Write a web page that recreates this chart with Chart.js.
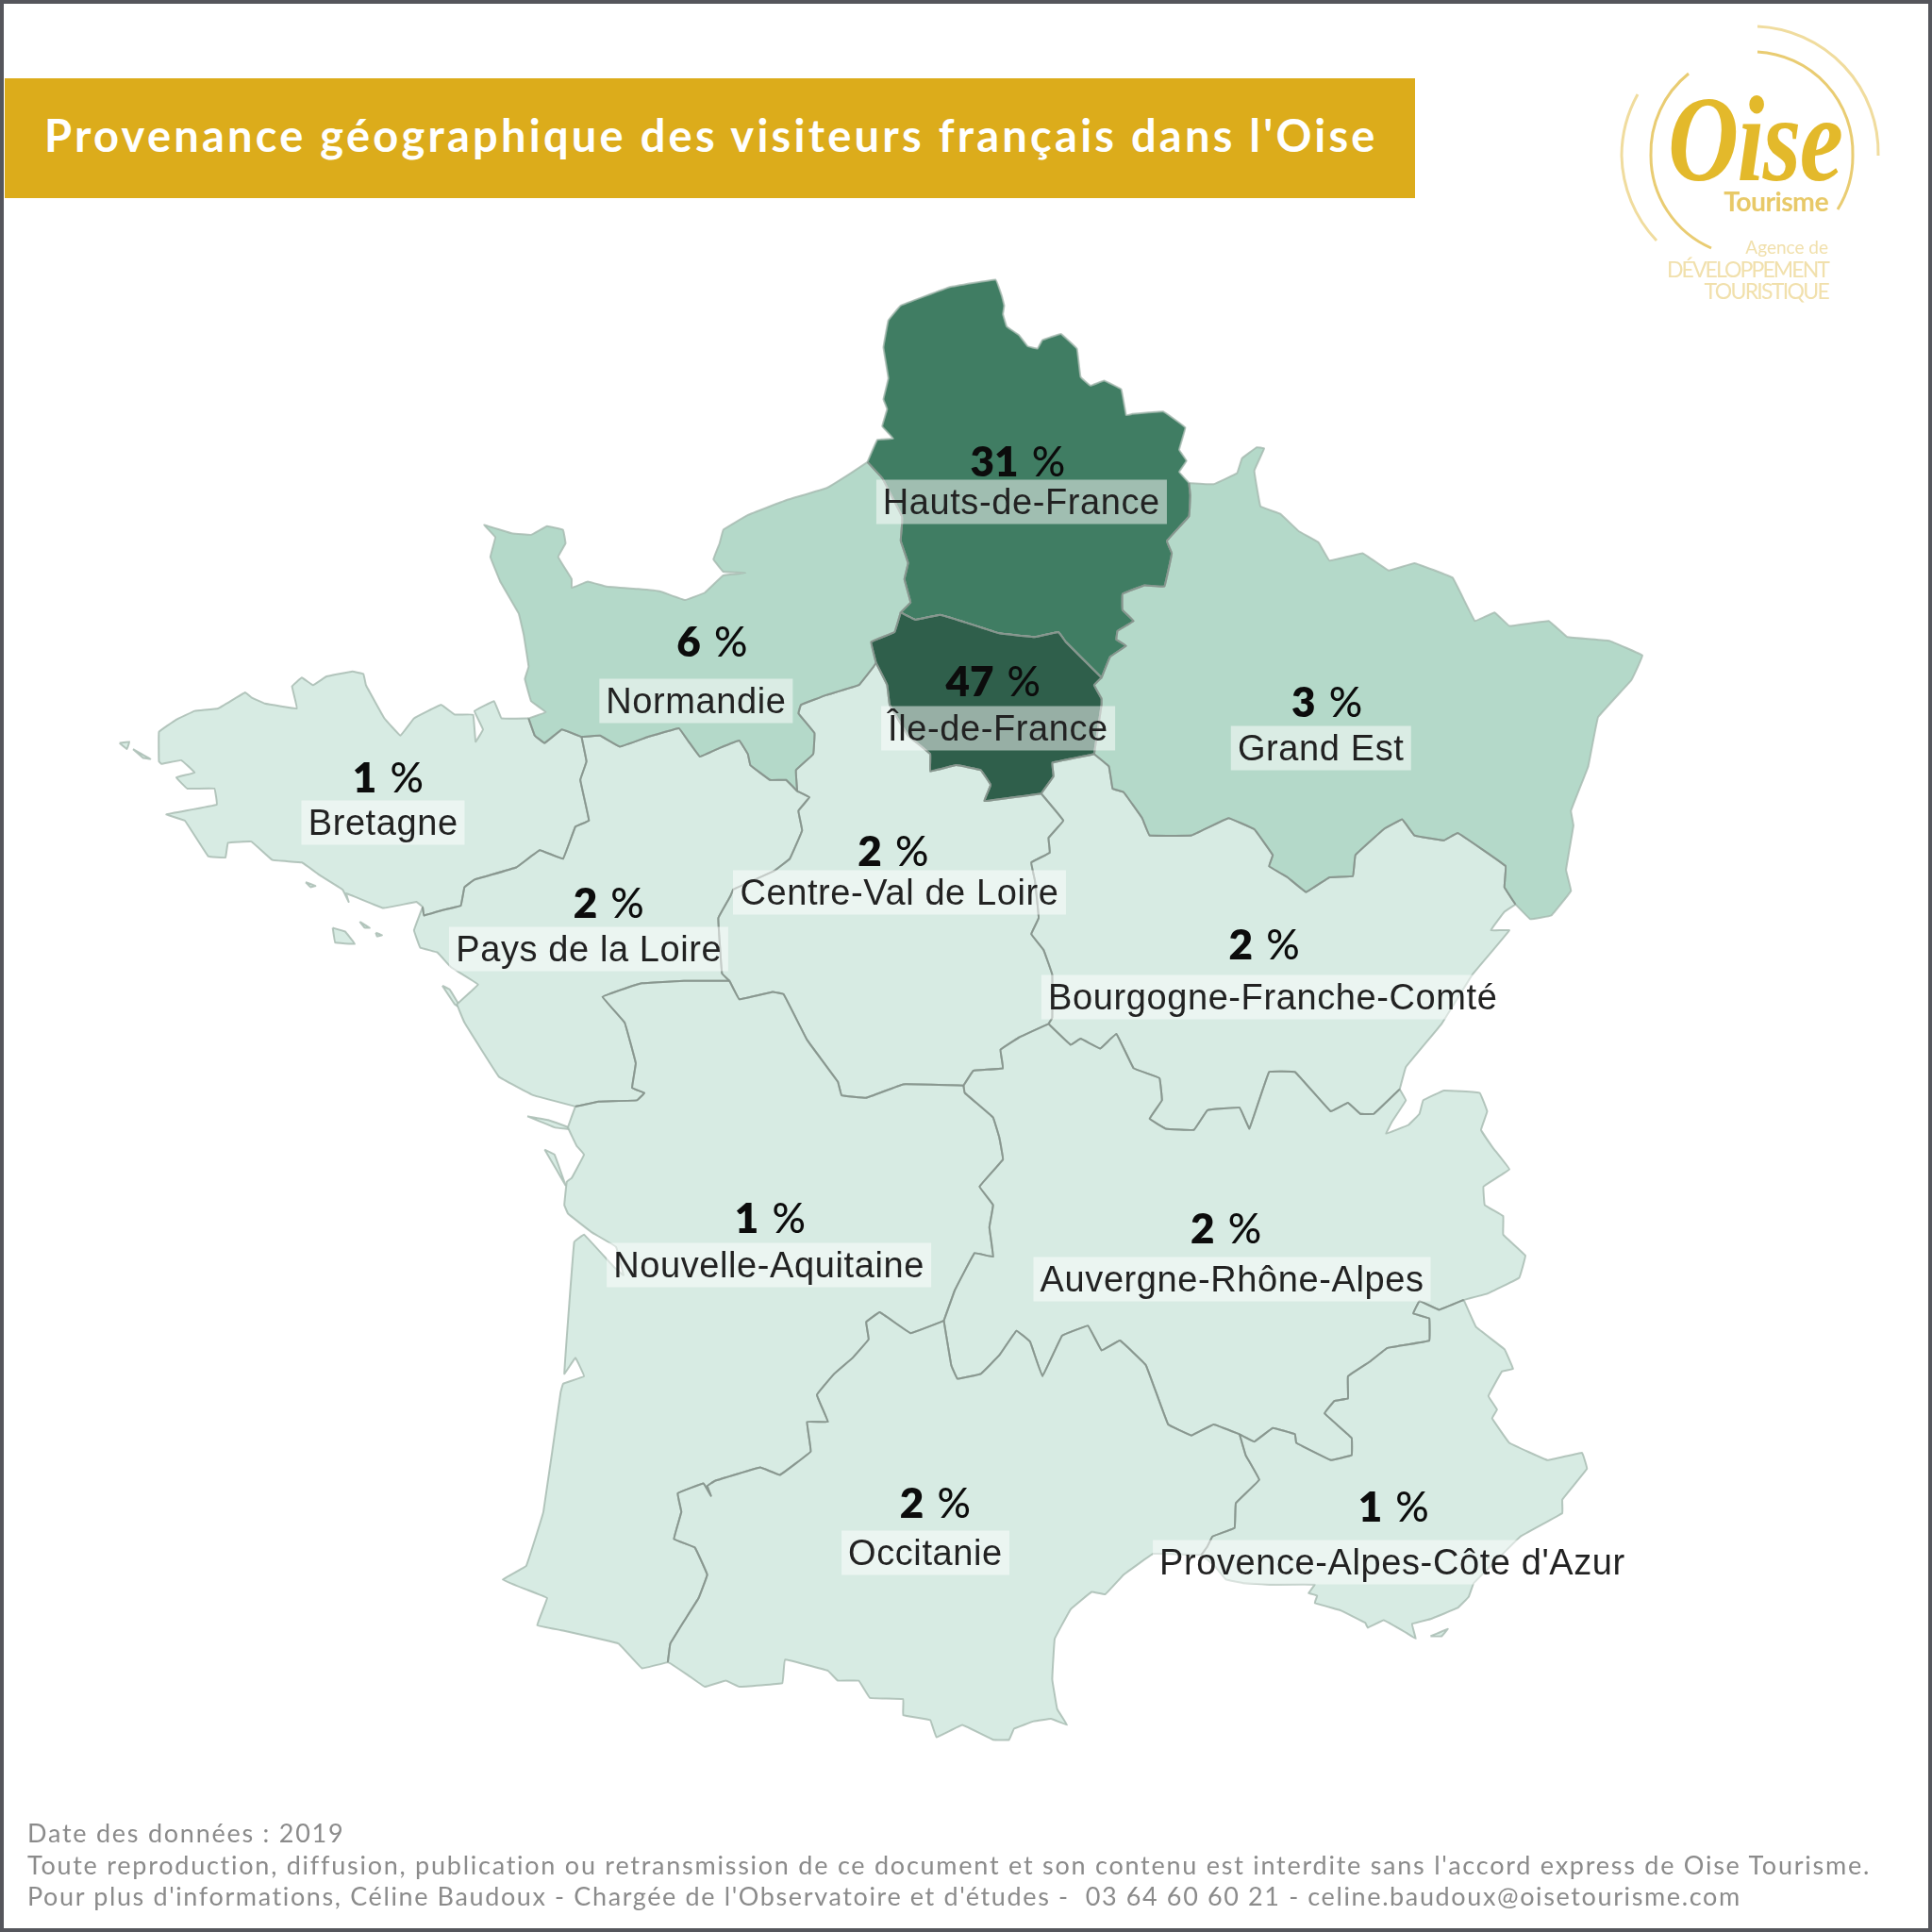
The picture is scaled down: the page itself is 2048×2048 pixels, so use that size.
<!DOCTYPE html>
<html lang="fr">
<head>
<meta charset="utf-8">
<title>Provenance géographique des visiteurs français dans l'Oise</title>
<script src="https://cdn.jsdelivr.net/npm/chart.js@4/dist/chart.umd.min.js"></script>
<style>
  html, body { margin: 0; padding: 0; background: #fff; }
  #page { position: relative; width: 2048px; height: 2048px; overflow: hidden; }
  #frame { position: absolute; inset: 0; border: 4px solid #55565c; box-sizing: border-box; pointer-events: none; }
  #map { position: absolute; left: 0; top: 0; }
  #banner { position: absolute; left: 5px; top: 83px; width: 1495px; height: 127px; background: #dcac1b; }
  #banner span { position: absolute; left: 42px; top: 32px; color: #fff; font: 700 47px Lato, sans-serif; letter-spacing: 3.25px; white-space: nowrap; }
  .region-name, .region-value { position: absolute; transform: translate(-50%, -50%); white-space: nowrap; }
  .region-name { font: 38px "Liberation Sans", sans-serif; letter-spacing: .6px; color: #222; padding: 2px 7px; background: rgba(255,255,255,.5); }
  .region-value { font: 800 44px Lato, sans-serif; color: #0c0c0c; word-spacing: 4px; }
  .region-value span { font-weight: 500; }
  #source { position: absolute; left: 29px; top: 1926px; color: #8b8b8b; font: 27px/33.5px Lato, sans-serif; white-space: nowrap; letter-spacing: 1.75px; }
  #source span { letter-spacing: 1.62px; }
  #logo { position: absolute; left: 1660px; top: 0; }
  .logo-sub { position: absolute; right: 110px; white-space: nowrap; font-family: Lato, sans-serif; }
</style>
</head>
<body>
<div id="page">
  <canvas id="map" width="2048" height="2048"></canvas>
  <div id="banner"><span>Provenance géographique des visiteurs français dans l'Oise</span></div>
  <svg id="logo" width="388" height="340" fill="none" stroke="#e9cc72">
    <path d="M 203 28 A 134 134 0 0 1 331 165" stroke-width="3" stroke="#f0dc9e"/>
    <path d="M 203 55 A 107 107 0 0 1 304 165 A 107 107 0 0 1 288 222" stroke-width="3"/>
    <path d="M 130 78 A 107 107 0 0 0 90 165 A 107 107 0 0 0 154 263" stroke-width="3"/>
    <path d="M 76 100 A 135 135 0 0 0 59 165 A 135 135 0 0 0 96 255" stroke-width="3" stroke="#f0dc9e"/>
  </svg>
  <div class="logo-sub" style="left:1768px;right:auto;top:72px;color:#e3b92b;font:italic 700 130px 'Liberation Serif',serif;letter-spacing:-2px;transform:scaleX(.8);transform-origin:left">Oise</div>
  <div class="logo-sub" style="top:196px;color:#e8c968;font-size:28.5px;font-weight:700;letter-spacing:-.6px">Tourisme</div>
  <div class="logo-sub" style="top:250px;color:#f1e0ac;font-size:19px">Agence de</div>
  <div class="logo-sub" style="top:271px;color:#f1e0ac;font-size:23px;letter-spacing:-1.9px">DÉVELOPPEMENT</div>
  <div class="logo-sub" style="top:294px;color:#f1e0ac;font-size:23px;letter-spacing:-1.7px">TOURISTIQUE</div>
  <div id="source">Date des données : 2019<br>Toute reproduction, diffusion, publication ou retransmission de ce document et son contenu est interdite sans l'accord express de Oise Tourisme.<br><span>Pour plus d'informations, Céline Baudoux - Chargée de l'Observatoire et d'études -&nbsp; 03 64 60 60 21 - celine.baudoux@oisetourisme.com</span></div>
  <div id="frame"></div>
</div>
<script>
/* ── REGION DATA ── */
const regionNames  = ['Bretagne', 'Pays de la Loire', 'Centre-Val de Loire', 'Bourgogne-Franche-Comté', 'Nouvelle-Aquitaine', 'Auvergne-Rhône-Alpes', 'Occitanie', "Provence-Alpes-Côte d'Azur", 'Normandie', 'Grand Est', 'Hauts-de-France', 'Île-de-France'];
const regionValues = [1, 2, 2, 2, 1, 2, 2, 1, 6, 3, 31, 47];

// label anchors, map units (name centre, then value centre)
const nameX  = [311, 478, 730, 1033, 624, 1000, 751, 1130, 565, 1072, 829, 810];
const nameY  = [668, 770, 724, 809, 1027, 1038, 1260, 1268, 569, 607, 407, 591];
const valueX = [315, 494, 725, 1026, 625, 995, 759, 1131, 578, 1077, 826, 806];
const valueY = [630, 732, 690, 766, 988, 996, 1219, 1222, 520, 569, 374, 552];

/* ── OUTLINES (map units 0-1568) ── */
const hdfCoast = [[704,375],[712,357],[725,356],[716,346],[720,332],[717,324],[721,307],[717,282],[721,260],[731,248],[771,233],[808,227],[813,240],[815,248],[814,255],[817,265],[827,272],[834,281],[842,283],[846,276],[861,271],[874,283],[877,306],[885,313],[896,309],[910,316],[914,337],[919,336],[944,334],[962,347],[957,365],[963,374],[957,383],[965,392]];
const hdfGe = [[965,392],[966,402],[965,419],[947,439],[951,449],[945,476],[929,475],[911,482],[911,495],[920,504],[907,512],[906,519],[914,524],[901,533],[894,550]];
const hdfIdf = [[894,550],[865,521],[859,513],[840,517],[811,514],[783,505],[763,499],[743,503],[731,497]];
const hdfNorm = [[731,497],[739,489],[734,470],[737,457],[731,439],[732,426],[732,419],[716,388],[704,375]];
const geCoast = [[965,392],[985,393],[1004,384],[1008,372],[1020,363],[1026,364],[1018,382],[1023,411],[1039,417],[1054,431],[1070,440],[1079,455],[1106,449],[1127,463],[1148,457],[1179,469],[1197,504],[1213,497],[1225,508],[1257,504],[1272,517],[1306,520],[1333,532],[1324,552],[1297,582],[1289,622],[1275,658],[1277,670],[1271,706],[1275,723],[1259,743],[1242,746],[1230,734]];
const geBfc = [[1230,734],[1221,720],[1222,703],[1183,676],[1172,682],[1148,678],[1138,665],[1123,673],[1100,694],[1098,711],[1079,712],[1060,724],[1045,712],[1030,703],[1033,694],[1018,673],[997,664],[967,678],[933,678],[927,664],[912,643],[903,640],[900,622],[888,612]];
const geIdf = [[888,612],[894,572],[894,567],[888,556],[894,550]];
const idfBfc = [[888,612],[854,619],[855,630],[845,644]];
const idfCvl = [[845,644],[799,650],[804,637],[796,625],[776,621],[755,626],[755,612],[737,597],[722,572],[720,556],[711,538]];
const idfNorm = [[711,538],[707,521],[726,513],[731,497]];
const normCoast = [[704,375],[689,385],[671,396],[638,406],[607,418],[587,430],[584,441],[579,454],[587,464],[605,465],[587,467],[572,481],[556,487],[536,480],[518,478],[492,476],[477,472],[464,477],[464,470],[453,452],[459,441],[457,430],[444,427],[431,434],[416,433],[393,426],[402,436],[398,452],[406,472],[421,498],[425,515],[429,541],[426,551],[431,569],[443,578],[429,583]];
const normBzh = [[429,583],[434,597],[442,603],[456,592],[472,598]];
const normPdl = [[472,598],[487,597],[503,606],[526,598],[551,591],[559,602],[568,614],[584,607],[600,601],[607,612],[609,621],[625,633],[638,633],[647,642]];
const normCvl = [[647,642],[646,625],[660,612],[661,595],[648,579],[650,572],[671,564],[697,556],[709,541],[711,538]];
const bzhCoast = [[429,583],[407,583],[401,569],[385,577],[392,592],[386,602],[384,580],[369,580],[358,572],[336,583],[325,597],[312,583],[297,556],[295,547],[286,545],[265,549],[254,556],[245,550],[237,557],[241,575],[215,571],[204,566],[199,562],[177,575],[158,577],[143,584],[129,594],[129,618],[131,620],[147,617],[158,627],[143,631],[152,640],[174,640],[176,653],[135,661],[150,666],[169,695],[183,696],[185,684],[204,683],[221,698],[245,700],[259,710],[278,722],[283,732],[281,725],[311,737],[338,732],[343,736]];
const bzhPdl = [[343,736],[344,743],[358,739],[374,735],[377,720],[385,714],[419,704],[438,690],[457,697],[467,671],[478,666],[471,633],[476,618],[472,598]];
const pdlCoast = [[343,736],[336,755],[341,769],[355,773],[366,785],[388,799],[371,815],[377,830],[405,874],[433,889],[467,898]];
const pdlNa = [[467,898],[486,894],[517,893],[523,887],[513,883],[516,863],[507,830],[489,809],[508,802],[521,798],[555,796],[592,796]];
const pdlCvl = [[592,796],[586,790],[583,745],[593,727],[595,722],[628,707],[641,697],[651,674],[648,658],[657,647],[647,642]];
const cvlBfc = [[845,644],[863,666],[851,680],[852,692],[837,700],[840,715],[843,745],[837,758],[847,771],[854,791],[854,826],[851,831]];
const cvlAra = [[851,831],[827,842],[812,852],[814,867],[790,869],[782,881]];
const cvlNa = [[782,881],[733,880],[703,891],[683,889],[680,878],[655,844],[636,807],[627,805],[600,811],[592,796]];
const bfcSwiss = [[1230,734],[1221,740],[1210,755],[1225,755],[1195,791],[1170,831],[1141,866],[1136,884]];
const bfcAra = [[1136,884],[1115,904],[1104,904],[1094,895],[1080,902],[1051,870],[1030,870],[1014,916],[1006,899],[980,901],[969,917],[946,916],[933,908],[943,893],[941,875],[920,867],[906,839],[893,851],[877,843],[869,848],[851,831]];
const araEast = [[1136,884],[1141,893],[1130,910],[1125,920],[1143,913],[1152,904],[1155,893],[1172,885],[1201,887],[1207,902],[1202,917],[1212,932],[1225,949],[1204,963],[1205,978],[1220,987],[1220,1002],[1238,1019],[1233,1037],[1207,1050],[1188,1055]];
const araPaca = [[1188,1055],[1168,1063],[1152,1056],[1147,1066],[1160,1070],[1160,1088],[1126,1094],[1112,1105],[1094,1117],[1094,1135],[1083,1137],[1075,1147],[1097,1167],[1097,1181],[1080,1185],[1052,1171],[1051,1164],[1033,1159],[1018,1170],[1006,1164]];
const araOcc = [[1006,1164],[985,1156],[967,1165],[948,1156],[930,1108],[909,1088],[894,1096],[883,1076],[862,1084],[846,1117],[836,1089],[825,1080],[811,1100],[796,1115],[777,1119],[772,1108],[766,1072]];
const araNa = [[766,1072],[775,1047],[791,1017],[806,1020],[803,996],[806,978],[795,963],[814,941],[811,923],[806,907],[783,887],[782,881]];
const pacaCoast = [[1188,1055],[1198,1077],[1221,1095],[1228,1111],[1219,1113],[1208,1133],[1215,1144],[1211,1151],[1225,1171],[1256,1185],[1284,1179],[1288,1192],[1268,1217],[1268,1228],[1234,1247],[1196,1285],[1192,1296],[1183,1305],[1161,1314],[1146,1318],[1149,1330],[1141,1325],[1123,1315],[1110,1321],[1108,1317],[1088,1307],[1067,1301],[1069,1295],[1062,1293],[1067,1286],[1030,1286],[1010,1285],[995,1282],[985,1270],[975,1262]];
const pacaOcc = [[975,1262],[980,1255],[984,1247],[1002,1240],[1003,1220],[1022,1201],[1011,1181],[1006,1164]];
const occCoast = [[975,1262],[936,1261],[912,1278],[897,1294],[886,1292],[869,1306],[856,1330],[854,1363],[858,1387],[866,1400],[853,1395],[839,1397],[823,1403],[819,1412],[806,1412],[781,1400],[760,1410],[755,1396],[733,1392],[733,1379],[706,1378],[697,1364],[680,1364],[672,1356],[637,1347],[635,1366],[600,1369],[589,1364],[572,1369],[559,1360],[544,1350],[542,1349]];
const naOcc = [[766,1072],[739,1082],[714,1065],[703,1073],[705,1087],[692,1102],[677,1115],[663,1132],[672,1154],[655,1154],[658,1178],[633,1197],[617,1191],[580,1202],[574,1206],[577,1214],[571,1204],[550,1212],[553,1227],[547,1249],[564,1256],[574,1278],[567,1297],[555,1316],[544,1334],[542,1349]];
const naCoast = [[467,898],[461,915],[468,930],[474,937],[464,956],[460,959],[458,978],[461,985],[480,1000],[500,1012],[506,1035],[498,1028],[474,1002],[466,1008],[458,1115],[467,1102],[474,1117],[457,1123],[455,1130],[441,1227],[427,1271],[408,1282],[427,1290],[444,1297],[436,1319],[455,1323],[502,1334],[521,1354],[542,1349]];

const islandOutlines = [
  [[97,603],[105,602],[103,608]],
  [[108,608],[122,616],[116,615]],
  [[248,716],[256,719],[252,720]],
  [[270,753],[280,756],[288,766],[272,765]],
  [[292,748],[300,753],[296,753]],
  [[305,757],[310,759],[306,760]],
  [[359,800],[365,803],[374,818],[369,815]],
  [[428,906],[445,909],[467,917],[450,915]],
  [[442,933],[450,937],[459,962],[452,950]],
  [[1161,1328],[1175,1322],[1170,1328]],
];

// drawn darker on top of the fills, coasts stay faint
const innerBorders = [hdfGe, hdfIdf, hdfNorm, geBfc, geIdf, idfBfc, idfCvl, idfNorm, normBzh, normPdl, normCvl, bzhPdl, pdlNa, pdlCvl, cvlBfc, cvlAra, cvlNa, bfcAra, araPaca, araOcc, araNa, pacaOcc, naOcc];

function rev(border) { return [...border].reverse(); }

const regionOutlines = [
  [...bzhCoast, ...bzhPdl, ...rev(normBzh)],
  [...pdlCoast, ...pdlNa, ...pdlCvl, ...rev(normPdl), ...rev(bzhPdl)],
  [...normCvl, ...rev(idfCvl), ...cvlBfc, ...cvlAra, ...cvlNa, ...pdlCvl],
  [...rev(idfBfc), ...rev(geBfc), ...bfcSwiss, ...bfcAra, ...rev(cvlBfc)],
  [...cvlNa, ...rev(pdlNa), ...naCoast, ...rev(naOcc), ...araNa],
  [...rev(bfcAra), ...araEast, ...araPaca, ...araOcc, ...araNa, ...rev(cvlAra)],
  [...rev(pacaOcc), ...occCoast, ...rev(naOcc), ...rev(araOcc)],
  [...pacaCoast, ...pacaOcc, ...rev(araPaca)],
  [...normCoast, ...normBzh, ...normPdl, ...normCvl, ...idfNorm, ...hdfNorm],
  [...geCoast, ...geBfc, ...geIdf, ...rev(hdfGe)],
  [...hdfCoast, ...hdfGe, ...hdfIdf, ...hdfNorm],
  [...rev(hdfIdf), ...rev(geIdf), ...idfBfc, ...idfCvl, ...idfNorm],
];

function tint(v) {
  if (v >= 40) return '#2f5f4b';
  if (v >= 20) return '#407d63';
  if (v >= 3)  return '#b4d9c9';
  return '#d7ebe3';
}

function toPoints(list) { return list.map(p => ({ x: p[0], y: p[1] })); }

function shape(outline, color) {
  return {
    data: toPoints([...outline, outline[0]]),
    showLine: true,
    fill: 'shape',
    backgroundColor: color,
    borderColor: 'rgba(165,185,175,.8)',
    borderWidth: 2,
    tension: 0.05,
    pointRadius: 0,
  };
}

function borderLine(list) {
  return {
    data: toPoints(list),
    showLine: true,
    fill: false,
    borderColor: 'rgba(132,144,138,.85)',
    borderWidth: 2,
    tension: 0.05,
    pointRadius: 0,
  };
}

const datasets = [
  ...islandOutlines.map(o => shape(o, tint(1))),
  ...regionOutlines.map((o, i) => shape(o, tint(regionValues[i]))),
  ...innerBorders.map(borderLine),
];

// Chart.js paints the first dataset on top, so flip the order for the borders to win
datasets.reverse();

const mapChart = new Chart(document.getElementById('map'), {
  type: 'scatter',
  data: { datasets },
  options: {
    responsive: false,
    animation: false,
    devicePixelRatio: 1,
    layout: { padding: 0 },
    plugins: { legend: { display: false }, tooltip: { enabled: false } },
    scales: {
      x: { type: 'linear', min: 0, max: 1568, display: false },
      y: { type: 'linear', min: 0, max: 1568, reverse: true, display: false },
    },
  },
});

/* ── REGION LABELS ── */
const page = document.getElementById('page');
const frame = document.getElementById('frame');

function addLabel(cls, html, x, y) {
  const el = document.createElement('div');
  el.className = cls;
  el.innerHTML = html;
  el.style.left = mapChart.scales.x.getPixelForValue(x) + 'px';
  el.style.top  = mapChart.scales.y.getPixelForValue(y) + 'px';
  page.insertBefore(el, frame);
}

regionNames.forEach((name, i) => {
  addLabel('region-name', name, nameX[i], nameY[i]);
  addLabel('region-value', regionValues[i] + ' <span>%</span>', valueX[i], valueY[i]);
});
</script>
</body>
</html>
